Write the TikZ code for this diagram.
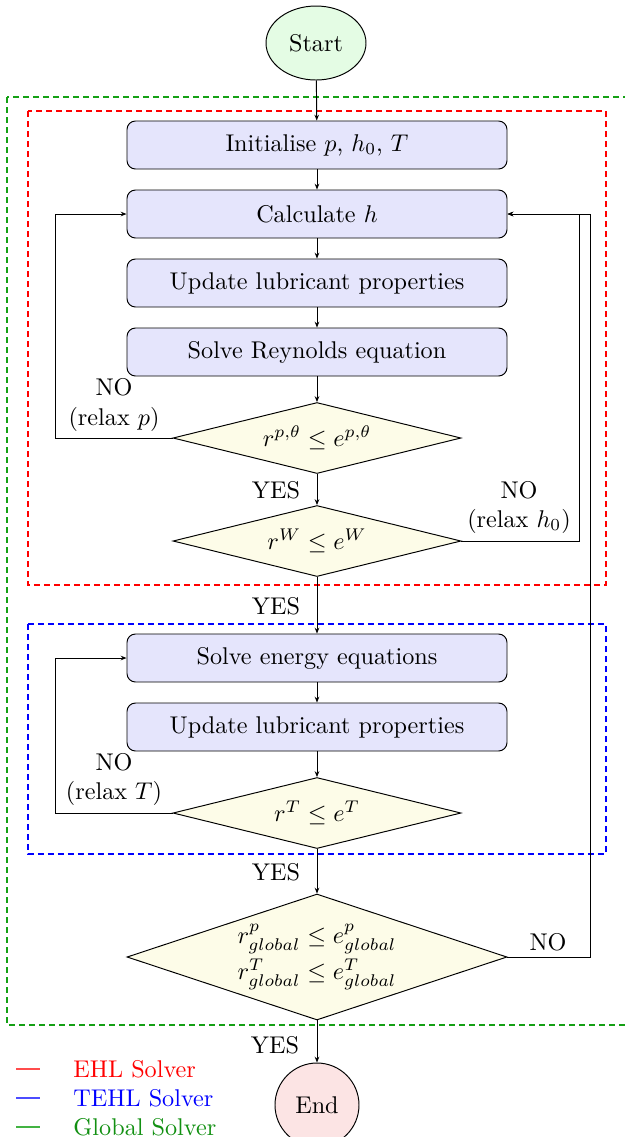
\documentclass[tikz,border=0pt]{standalone}
\usetikzlibrary{shapes.geometric,arrows.meta}
\newdimen\pxu
\pxu=0.4133pt
\definecolor{boxfill}{RGB}{229,229,252}
\definecolor{decfill}{RGB}{253,252,232}
\definecolor{startfill}{RGB}{228,252,228}
\definecolor{endfill}{RGB}{252,228,228}
\definecolor{mygreen}{RGB}{20,160,20}
\definecolor{myred}{RGB}{255,0,0}
\definecolor{myblue}{RGB}{0,0,255}
\tikzset{
  procbox/.style={draw, rounded corners=3.5pt, fill=boxfill, minimum width=380\pxu, minimum height=48\pxu, inner sep=0pt, align=center},
  decision/.style={draw, diamond, fill=decfill, inner sep=0pt, align=center},
  smalldec/.style={decision, shape aspect=4.05, minimum width=288\pxu, minimum height=71\pxu},
  bigdec/.style={decision, shape aspect=3.0, minimum width=380\pxu, minimum height=126\pxu},
  startnode/.style={draw, ellipse, fill=startfill, minimum width=100\pxu, minimum height=74\pxu, inner sep=0pt},
  endnode/.style={draw, circle, fill=endfill, minimum size=84\pxu, inner sep=0pt},
  flow/.style={-{Stealth[length=2.4pt,width=1.9pt]}},
  solverbox/.style={thick, dash pattern=on 6\pxu off 4\pxu},
  lbl/.style={align=center, inner sep=0pt},
  legline/.style={thick}
}
\begin{document}
\begin{tikzpicture}[x=\pxu,y=-\pxu]
\useasboundingbox (0,0) rectangle (624,1137);
% solver regions
\draw[solverbox, mygreen] (7,97) rectangle (650,1025);
\draw[solverbox, myred] (28,111) rectangle (606,585);
\draw[solverbox, myblue] (28,624) rectangle (606,854);

\node[startnode] (start) at (316,43) {Start};
\node[procbox] (init) at (317,145) {Initialise $p$, $h_0$, $T$};
\node[procbox] (calc) at (317,214) {Calculate $h$};
\node[procbox] (upd1) at (317,283) {Update lubricant properties};
\node[procbox] (reyn) at (317,352) {Solve Reynolds equation};
\node[smalldec] (dp) at (317,438) {$r^{p,\theta} \le e^{p,\theta}$};
\node[smalldec] (dw) at (317,541) {$r^{W} \le e^{W}$};
\node[procbox] (energy) at (317,658) {Solve energy equations};
\node[procbox] (upd2) at (317,727) {Update lubricant properties};
\node[smalldec] (dt) at (317,813) {$r^{T} \le e^{T}$};
\node[bigdec] (dg) at (317,957) {$r^{p}_{global} \le e^{p}_{global}$\\[1pt]$r^{T}_{global} \le e^{T}_{global}$};
\node[endnode] (end) at (317,1105) {End};

\coordinate (lp) at (55,438);
\coordinate (lpt) at (55,214);
\coordinate (rw) at (579,541);
\coordinate (rwt) at (579,214);
\coordinate (rg) at (590,957);
\coordinate (rgt) at (590,214);
\coordinate (lt) at (55,813);
\coordinate (ltt) at (55,658);

\draw[flow] (start) -- (init);
\draw[flow] (init) -- (calc);
\draw[flow] (calc) -- (upd1);
\draw[flow] (upd1) -- (reyn);
\draw[flow] (reyn) -- (dp);
\draw[flow] (dp) -- (dw);
\draw[flow] (dw) -- (energy);
\draw[flow] (energy) -- (upd2);
\draw[flow] (upd2) -- (dt);
\draw[flow] (dt) -- (dg);
\draw[flow] (dg) -- (end);
\draw[flow] (dp.west) -- (lp) -- (lpt) -- (calc.west);
\draw[flow] (dw.east) -- (rw) -- (rwt) -- (calc.east);
\draw[flow] (dg.east) -- (rg) -- (rgt) -- (calc.east);
\draw[flow] (dt.west) -- (lt) -- (ltt) -- (energy.west);

\node[lbl] (nop) at (114,405) {NO\\(relax $p$)};
\node[lbl] (yes1) at (276,490) {YES};
\node[lbl] (noh) at (519,507) {NO\\(relax $h_0$)};
\node[lbl] (yes2) at (276,606) {YES};
\node[lbl] (noT) at (114,779) {NO\\(relax $T$)};
\node[lbl] (yes3) at (276,872) {YES};
\node[lbl] (nog) at (548,942) {NO};
\node[lbl] (yes4) at (275,1045) {YES};

% legend
\coordinate (la1) at (16,1069); \coordinate (lb1) at (40,1069);
\coordinate (la2) at (16,1098); \coordinate (lb2) at (40,1098);
\coordinate (la3) at (16,1127); \coordinate (lb3) at (40,1127);
\draw[legline, myred!70] (la1) -- (lb1);
\draw[legline, myblue!70] (la2) -- (lb2);
\draw[legline, mygreen!80] (la3) -- (lb3);
\node[anchor=west, inner sep=0pt, text=myred] (leg1) at (73,1069) {EHL Solver};
\node[anchor=west, inner sep=0pt, text=myblue] (leg2) at (73,1098) {TEHL Solver};
\node[anchor=west, inner sep=0pt, text=mygreen!90!black] (leg3) at (73,1127) {Global Solver};
\end{tikzpicture}
\end{document}
